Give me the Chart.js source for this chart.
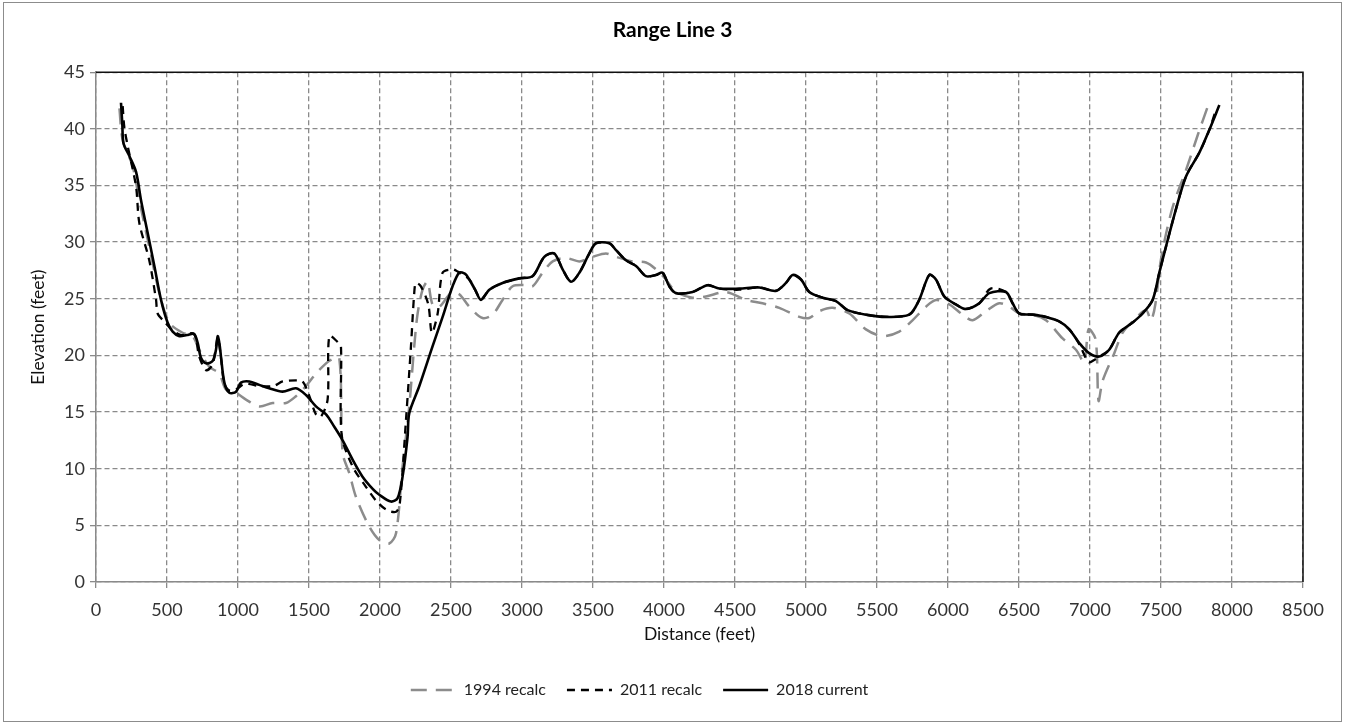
<!DOCTYPE html>
<html>
<head>
<meta charset="utf-8">
<title>Range Line 3</title>
<script src="https://cdn.jsdelivr.net/npm/chart.js@4.4.1/dist/chart.umd.min.js"></script>
<style>
  html, body { margin: 0; padding: 0; background: #fff; }
  #wrap { width: 1345px; height: 723px; }
</style>
</head>
<body>
<div id="wrap"><canvas id="rangeChart" width="1345" height="723"></canvas></div>
<script>
// distance (ft) / elevation (ft)
const dist1994 = [165, 188, 258, 305, 375, 446, 516, 610, 680, 727, 798, 868, 915, 986, 1056, 1150, 1244, 1338, 1408, 1479, 1549, 1620, 1655, 1713, 1737, 1784, 1831, 1924, 1995, 2065, 2113, 2159, 2206, 2241, 2265, 2300, 2335, 2370, 2418, 2500, 2558, 2629, 2722, 2793, 2863, 2934, 3028, 3075, 3145, 3216, 3310, 3404, 3497, 3591, 3662, 3779, 3873, 3944, 4014, 4084, 4201, 4295, 4436, 4577, 4694, 4812, 4953, 5023, 5093, 5187, 5305, 5422, 5539, 5657, 5750, 5844, 5915, 6009, 6103, 6173, 6267, 6361, 6432, 6502, 6596, 6690, 6807, 6901, 6960, 6990, 7040, 7060, 7090, 7171, 7229, 7300, 7394, 7429, 7460, 7500, 7580, 7680, 7760, 7830];
const elev1994 = [41.8, 39.0, 36.7, 33.7, 29.6, 25.5, 22.9, 22.0, 21.7, 20.5, 19.0, 18.4, 17.0, 16.7, 16.1, 15.5, 15.8, 15.8, 16.4, 17.3, 18.4, 19.3, 19.6, 19.8, 11.4, 9.6, 7.5, 4.9, 3.7, 3.4, 4.3, 10.2, 15.5, 20.8, 23.7, 25.8, 26.5, 24.5, 24.3, 25.5, 25.4, 24.3, 23.3, 23.6, 24.9, 26.1, 26.2, 26.1, 27.3, 28.3, 28.6, 28.3, 28.7, 29.0, 28.7, 28.3, 28.2, 27.6, 26.7, 25.6, 25.1, 25.2, 25.6, 24.9, 24.6, 24.2, 23.4, 23.3, 23.9, 24.2, 23.7, 22.3, 21.7, 22.1, 23.1, 24.3, 24.9, 24.5, 23.6, 23.1, 23.9, 24.6, 24.3, 23.7, 23.6, 23.1, 21.5, 20.5, 19.4, 22.3, 21.4, 16.0, 17.8, 20.2, 22.0, 23.0, 24.0, 23.1, 24.5, 28.5, 33.0, 36.5, 39.5, 42.0];

const dist2011 = [188, 199, 223, 282, 305, 375, 423, 434, 480, 540, 600, 690, 727, 775, 821, 857, 880, 904, 939, 986, 1050, 1150, 1250, 1314, 1408, 1455, 1500, 1549, 1584, 1631, 1643, 1701, 1725, 1730, 1807, 1901, 1971, 2042, 2113, 2140, 2183, 2218, 2241, 2253, 2288, 2340, 2365, 2406, 2441, 2512, 2547, 2629, 2711, 2770, 2863, 2981, 3075, 3157, 3227, 3286, 3345, 3404, 3474, 3521, 3615, 3662, 3732, 3803, 3873, 3944, 3990, 4037, 4084, 4201, 4307, 4389, 4530, 4671, 4788, 4859, 4906, 4965, 5023, 5117, 5211, 5293, 5422, 5563, 5727, 5797, 5868, 5915, 5974, 6056, 6126, 6220, 6300, 6408, 6455, 6502, 6596, 6690, 6783, 6854, 6924, 6990, 7030, 7080, 7135, 7205, 7300, 7370, 7441, 7488, 7535, 7605, 7676, 7770, 7840, 7890];
const elev2011 = [42.0, 40.2, 38.5, 34.9, 31.7, 28.4, 24.9, 23.7, 23.0, 22.2, 21.8, 21.9, 19.9, 18.7, 19.2, 21.5, 19.8, 17.5, 16.9, 17.0, 17.5, 17.3, 17.3, 17.7, 17.8, 17.7, 16.5, 14.8, 14.6, 16.1, 21.7, 21.2, 20.8, 13.0, 10.2, 8.4, 7.2, 6.4, 6.2, 7.0, 14.3, 20.8, 25.5, 26.4, 26.1, 24.5, 22.0, 23.7, 27.3, 27.6, 27.4, 26.7, 25.0, 25.8, 26.4, 26.8, 27.0, 28.7, 29.0, 27.6, 26.5, 27.3, 29.0, 29.9, 29.9, 29.3, 28.4, 27.9, 27.0, 27.1, 27.3, 26.1, 25.5, 25.6, 26.2, 25.9, 25.8, 26.0, 25.7, 26.4, 27.1, 26.7, 25.6, 25.1, 24.8, 24.0, 23.6, 23.4, 23.6, 24.9, 27.1, 26.7, 25.2, 24.5, 24.1, 24.6, 25.9, 25.6, 24.6, 23.7, 23.6, 23.4, 23.0, 22.3, 21.0, 19.4, 19.6, 20.0, 20.5, 22.0, 22.9, 23.7, 24.9, 27.3, 29.6, 32.9, 35.8, 37.9, 39.9, 41.8];

const dist2018 = [176, 185, 194, 235, 282, 317, 364, 411, 458, 504, 540, 587, 640, 690, 716, 739, 775, 821, 845, 857, 870, 880, 904, 939, 986, 1021, 1080, 1150, 1220, 1314, 1408, 1479, 1549, 1620, 1678, 1737, 1807, 1877, 1950, 1995, 2077, 2124, 2159, 2194, 2206, 2277, 2370, 2441, 2511, 2558, 2600, 2629, 2670, 2711, 2770, 2863, 2981, 3075, 3157, 3227, 3286, 3345, 3404, 3474, 3521, 3615, 3662, 3732, 3803, 3873, 3944, 3990, 4037, 4084, 4201, 4307, 4389, 4530, 4671, 4788, 4859, 4906, 4965, 5023, 5117, 5211, 5293, 5422, 5563, 5727, 5797, 5868, 5915, 5974, 6056, 6126, 6220, 6291, 6408, 6455, 6502, 6596, 6690, 6783, 6854, 6924, 6994, 7065, 7135, 7205, 7300, 7370, 7441, 7488, 7535, 7605, 7676, 7770, 7840, 7911];
const elev2018 = [42.3, 40.5, 38.7, 37.6, 36.2, 33.7, 30.8, 27.9, 24.9, 22.9, 22.1, 21.7, 21.8, 21.9, 21.1, 19.8, 19.3, 19.5, 20.5, 21.7, 21.0, 19.9, 17.6, 16.7, 16.8, 17.6, 17.7, 17.4, 17.1, 16.8, 17.1, 16.5, 15.5, 14.8, 13.7, 12.5, 10.8, 9.3, 8.2, 7.7, 7.1, 7.4, 9.3, 12.8, 14.9, 17.3, 20.8, 23.4, 26.1, 27.3, 27.2, 26.7, 25.8, 24.9, 25.8, 26.4, 26.8, 27.0, 28.7, 29.0, 27.6, 26.5, 27.3, 29.0, 29.9, 29.9, 29.3, 28.4, 27.9, 27.0, 27.1, 27.3, 26.1, 25.5, 25.6, 26.2, 25.9, 25.9, 26.0, 25.7, 26.4, 27.1, 26.7, 25.6, 25.1, 24.8, 24.0, 23.6, 23.4, 23.6, 24.9, 27.1, 26.7, 25.2, 24.5, 24.1, 24.6, 25.5, 25.6, 24.6, 23.7, 23.6, 23.4, 23.0, 22.3, 21.1, 20.2, 19.9, 20.5, 22.0, 22.9, 23.7, 24.9, 27.3, 29.6, 32.9, 35.8, 37.9, 39.9, 42.1];

const seriesLabels = ["1994 recalc", "2011 recalc", "2018 current"];

const toPoints = (xs, ys) => xs.map((x, i) => ({ x, y: ys[i] }));

const gridGrey = "#8a8a8a";
const fontFamily = "Lato, 'Open Sans', sans-serif";

// outer frame + black top/right edge of the plot area
const framePlugin = {
  id: "frame",
  beforeDraw(chart) {
    const { ctx, width, height } = chart;
    ctx.save();
    ctx.fillStyle = "#fff";
    ctx.fillRect(0, 0, width, height);
    ctx.restore();
  },
  afterLayout(chart) {
    // excel centres legend and title on the whole sheet, not the plot
    chart.legend.left -= 22;
    chart.legend.right -= 22;
    chart.titleBlock.left += 11;
    chart.titleBlock.right += 11;
  },
  beforeDatasetsDraw(chart) {
    const { ctx, chartArea: a } = chart;
    ctx.save();
    ctx.strokeStyle = "#111";
    ctx.lineWidth = 1.5;
    ctx.beginPath();
    ctx.moveTo(a.left, a.top);
    ctx.lineTo(a.right, a.top);
    ctx.lineTo(a.right, a.bottom);
    ctx.stroke();
    ctx.restore();
  },
  afterDraw(chart) {
    const { ctx } = chart;
    ctx.save();
    ctx.strokeStyle = "#8c8c8c";
    ctx.lineWidth = 1;
    ctx.strokeRect(3.5, 2.5, 1338, 719);
    ctx.restore();
  },
};

const lineStyle = (color, width, dash) => ({
  borderColor: color,
  backgroundColor: color,
  borderWidth: width,
  borderDash: dash,
  pointRadius: 0,
  pointHoverRadius: 0,
  tension: 0.3,
  fill: false,
  showLine: true,
});

// legend samples should carry the dataset's own dash and width
const legendLabels = (chart) =>
  Chart.defaults.plugins.legend.labels.generateLabels(chart).map((item) => {
    const ds = chart.data.datasets[item.datasetIndex];
    return { ...item, lineDash: ds.borderDash, lineWidth: ds.borderWidth, strokeStyle: ds.borderColor };
  });

const tickText = (value) => String(value);

new Chart(document.querySelector("#rangeChart"), {
  type: "scatter",
  data: {
    datasets: [
      { label: seriesLabels[0], data: toPoints(dist1994, elev1994), order: 3, ...lineStyle("#8c8c8c", 2.5, [16, 9]) },
      { label: seriesLabels[1], data: toPoints(dist2011, elev2011), order: 2, ...lineStyle("#000", 2.3, [8, 6]) },
      { label: seriesLabels[2], data: toPoints(dist2018, elev2018), order: 1, ...lineStyle("#000", 2.6, []) },
    ],
  },
  options: {
    responsive: false,
    animation: false,
    devicePixelRatio: 1,
    layout: { padding: { left: 20, right: 42, top: 12, bottom: 15 } },
    plugins: {
      title: {
        display: true,
        text: "Range Line 3",
        color: "#000",
        font: { family: fontFamily, size: 21, weight: "bold" },
        padding: { top: 6, bottom: 29 },
      },
      legend: {
        position: "bottom",
        labels: {
          usePointStyle: true,
          pointStyle: "line",
          pointStyleWidth: 45,
          padding: 21,
          color: "#222",
          font: { family: fontFamily, size: 16 },
          generateLabels: legendLabels,
          sort: (a, b) => a.datasetIndex - b.datasetIndex,
        },
      },
      tooltip: { enabled: false },
    },
    scales: {
      x: {
        type: "linear",
        min: 0,
        max: 8500,
        afterFit: (scale) => { scale.height = 79; },
        ticks: { stepSize: 500, color: "#333", padding: 11, callback: tickText, font: { family: fontFamily, size: 18 } },
        grid: { color: gridGrey, lineWidth: 1.3, tickLength: 6, tickColor: gridGrey },
        border: { color: gridGrey, width: 1.5, dash: [5, 3] },
        title: {
          display: true,
          text: "Distance (feet)",
          color: "#111",
          font: { family: fontFamily, size: 17.5 },
          padding: { top: 4, bottom: 16.5 },
        },
      },
      y: {
        min: 0,
        max: 45,
        afterFit: (scale) => { scale.width = 76; },
        ticks: { stepSize: 5, color: "#333", padding: 5, callback: tickText, font: { family: fontFamily, size: 18 } },
        grid: { color: gridGrey, lineWidth: 1.3, tickLength: 6, tickColor: gridGrey },
        border: { color: gridGrey, width: 1.5, dash: [5, 3] },
        title: {
          display: true,
          text: "Elevation (feet)",
          color: "#111",
          font: { family: fontFamily, size: 17.5 },
          padding: { top: 7.5, bottom: 4 },
        },
      },
    },
  },
  plugins: [framePlugin],
});
</script>
</body>
</html>
